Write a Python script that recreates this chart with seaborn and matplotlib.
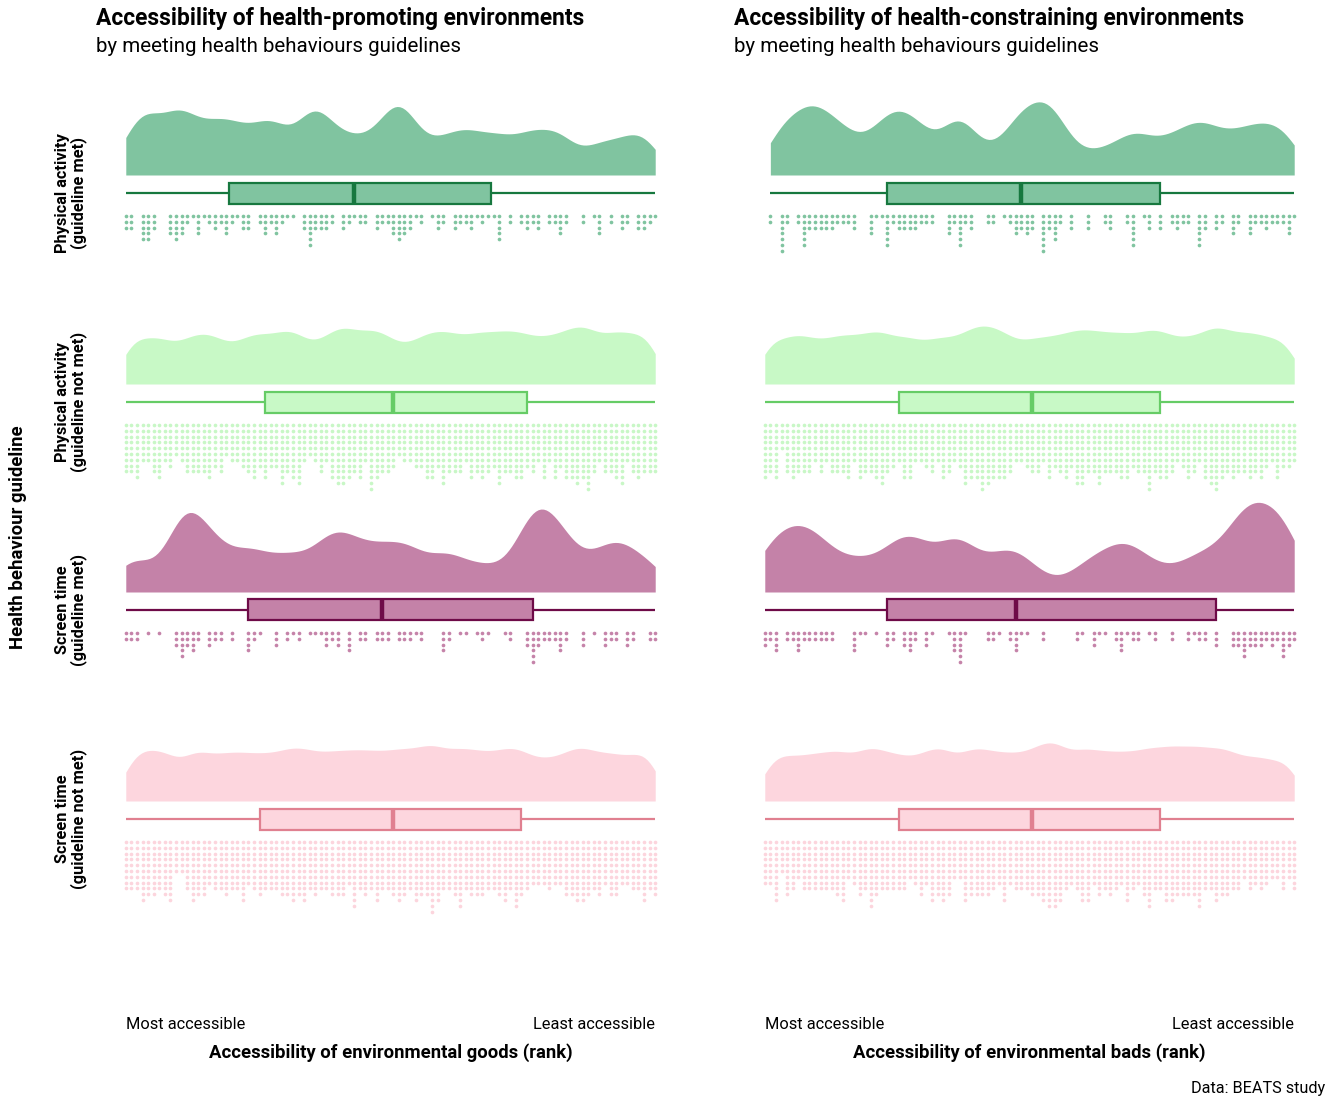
"""Raincloud plots: accessibility of environments by health behaviour guideline."""

import matplotlib

matplotlib.use("Agg")
import matplotlib.pyplot as plt
import numpy as np
import seaborn as sns

sns.set_theme(style="white")
plt.rcParams["font.family"] = ["Roboto", "DejaVu Sans"]
plt.rcParams["text.color"] = "black"
plt.rcParams["axes.labelcolor"] = "black"
plt.rcParams["xtick.color"] = "black"

# Dots per rank bin (96 bins, most accessible -> least accessible)
goods_pa_met = [
    3, 3, 0, 5, 5, 3, 0, 0, 4, 5, 4, 2, 1, 4, 1, 2,
    3, 2, 4, 2, 1, 3, 3, 0, 2, 4, 2, 4, 2, 1, 1, 0,
    3, 6, 3, 3, 3, 2, 0, 3, 2, 1, 2, 2, 0, 3, 2, 2,
    4, 5, 4, 3, 1, 2, 0, 1, 3, 2, 0, 3, 2, 2, 3, 1,
    2, 1, 1, 5, 0, 2, 0, 2, 3, 2, 3, 0, 2, 2, 4, 2,
    0, 0, 2, 0, 1, 4, 0, 2, 0, 3, 2, 0, 3, 3, 2, 1,
]
goods_pa_not_met = [
    9, 9, 10, 7, 7, 9, 10, 7, 8, 6, 7, 9, 9, 9, 9, 10,
    8, 9, 6, 7, 7, 8, 9, 10, 8, 10, 8, 8, 11, 9, 10, 11,
    7, 6, 7, 9, 7, 10, 11, 11, 10, 9, 10, 7, 12, 10, 9, 9,
    8, 6, 7, 7, 8, 8, 10, 10, 8, 11, 9, 9, 9, 7, 10, 9,
    10, 9, 8, 11, 9, 9, 10, 10, 8, 9, 7, 10, 7, 10, 8, 10,
    10, 11, 10, 12, 9, 7, 9, 9, 10, 11, 7, 9, 10, 9, 9, 9,
]
goods_st_met = [
    2, 2, 2, 0, 1, 0, 1, 0, 0, 3, 5, 3, 4, 2, 0, 3,
    2, 2, 0, 2, 0, 0, 4, 2, 1, 0, 0, 3, 0, 2, 1, 2,
    0, 1, 1, 1, 3, 2, 3, 0, 4, 0, 2, 2, 0, 2, 2, 2,
    0, 2, 2, 2, 1, 2, 0, 0, 0, 4, 2, 0, 1, 1, 0, 1,
    2, 1, 0, 0, 1, 2, 0, 0, 3, 6, 3, 2, 2, 2, 4, 2,
    0, 0, 3, 0, 1, 0, 3, 2, 2, 0, 3, 2, 0, 0, 2, 2,
]
goods_st_not_met = [
    9, 9, 9, 11, 10, 10, 9, 10, 11, 6, 6, 9, 11, 10, 10, 8,
    9, 9, 10, 9, 9, 11, 8, 9, 10, 9, 9, 9, 10, 10, 11, 10,
    11, 9, 10, 9, 9, 10, 10, 10, 8, 12, 9, 10, 9, 11, 9, 9,
    10, 11, 10, 9, 11, 10, 10, 13, 11, 9, 9, 10, 12, 9, 10, 10,
    10, 9, 9, 10, 11, 9, 12, 10, 9, 8, 8, 8, 9, 8, 8, 10,
    10, 11, 11, 10, 9, 10, 8, 10, 10, 8, 8, 9, 9, 11, 9, 10,
]
bads_pa_met = [
    0, 2, 0, 7, 2, 0, 2, 6, 3, 3, 3, 3, 3, 2, 2, 2,
    3, 0, 0, 4, 1, 1, 6, 2, 3, 3, 3, 3, 2, 2, 2, 0,
    0, 4, 2, 6, 2, 3, 0, 0, 2, 2, 0, 1, 2, 4, 3, 4,
    3, 0, 7, 3, 5, 2, 0, 3, 0, 0, 3, 0, 0, 2, 3, 0,
    0, 2, 6, 0, 1, 3, 0, 3, 0, 2, 3, 2, 2, 0, 6, 3,
    0, 3, 2, 0, 4, 2, 0, 4, 2, 2, 3, 2, 2, 2, 4, 1,
]
bads_pa_not_met = [
    10, 9, 10, 5, 9, 10, 9, 9, 9, 7, 9, 7, 9, 9, 9, 10,
    7, 10, 9, 9, 10, 11, 9, 8, 7, 10, 10, 7, 7, 8, 9, 7,
    10, 9, 7, 8, 11, 10, 10, 12, 11, 10, 10, 10, 9, 7, 7, 8,
    9, 9, 7, 10, 8, 9, 10, 8, 11, 11, 9, 9, 11, 9, 9, 9,
    10, 10, 8, 9, 9, 12, 9, 10, 10, 9, 7, 8, 10, 9, 7, 10,
    11, 12, 10, 9, 10, 9, 9, 10, 9, 10, 8, 7, 10, 8, 8, 7,
]
bads_st_met = [
    3, 2, 4, 0, 2, 2, 4, 2, 2, 2, 2, 2, 2, 0, 0, 0,
    4, 1, 1, 0, 1, 0, 3, 2, 0, 3, 4, 2, 0, 3, 1, 0,
    0, 1, 4, 6, 1, 0, 0, 0, 2, 2, 1, 0, 2, 4, 1, 1,
    0, 0, 2, 0, 0, 0, 0, 0, 2, 1, 0, 3, 1, 1, 0, 2,
    4, 1, 2, 2, 0, 1, 2, 0, 0, 2, 0, 0, 2, 1, 2, 2,
    0, 3, 0, 0, 3, 3, 5, 3, 3, 3, 2, 3, 2, 5, 3, 2,
]
bads_st_not_met = [
    8, 8, 11, 6, 10, 9, 7, 9, 9, 9, 9, 9, 9, 10, 11, 7,
    8, 10, 9, 12, 10, 9, 9, 9, 9, 9, 7, 8, 10, 8, 11, 10,
    11, 10, 7, 7, 11, 10, 10, 10, 10, 9, 8, 11, 8, 9, 9, 9,
    10, 10, 11, 12, 12, 11, 9, 8, 9, 11, 11, 8, 10, 9, 10, 9,
    8, 11, 9, 8, 10, 12, 9, 9, 11, 11, 10, 10, 10, 10, 12, 9,
    9, 11, 10, 10, 9, 9, 7, 9, 8, 9, 8, 7, 7, 9, 7, 9,
]

groups = [
    "Physical activity\n(guideline met)",
    "Physical activity\n(guideline not met)",
    "Screen time\n(guideline met)",
    "Screen time\n(guideline not met)",
]
fill_colours = ["#80c4a0", "#c8f9c6", "#c482a8", "#fdd6de"]
edge_colours = ["#17783f", "#66cc66", "#6e0b48", "#e08090"]
dot_colours = ["#80c4a0", "#c8f7c6", "#c583a9", "#fcd5dd"]

panel_titles = [
    "Accessibility of health-promoting environments",
    "Accessibility of health-constraining environments",
]
panel_xlabels = [
    "Accessibility of environmental goods (rank)",
    "Accessibility of environmental bads (rank)",
]
panel_counts = [
    [goods_pa_met, goods_pa_not_met, goods_st_met, goods_st_not_met],
    [bads_pa_met, bads_pa_not_met, bads_st_met, bads_st_not_met],
]
subtitle = "by meeting health behaviours guidelines"
rank_ends = ["Most accessible", "Least accessible"]

# Layout (pixels)
FIG_W, FIG_H = 1334, 1100
PANEL_X = [123, 762]
TITLE_X = [96, 734]
PANEL_W = 535
BASELINES = [175, 384, 592, 801]
PX_PER_DENSITY = 50
ROW_UP, ROW_DOWN = 105, 104
BOX_OFFSET, BOX_HEIGHT = 18, 21
DOT_START, DOT_STEP = 41, 5.8


def fig_rect(x, top, w, h):
    return [x / FIG_W, 1 - (top + h) / FIG_H, w / FIG_W, h / FIG_H]


def bin_centres(counts):
    return (np.arange(len(counts)) + 0.5) / len(counts)


def raincloud(ax, counts, fill, edge, dot):
    """Half-eye density, box and stacked dots for one group."""
    k = PX_PER_DENSITY
    vals = np.repeat(bin_centres(counts), counts)
    sns.kdeplot(x=vals, ax=ax, fill=True, cut=0, bw_adjust=0.3,
                color=fill, alpha=1, linewidth=0)
    sns.boxplot(x=vals, y=np.full(vals.size, -BOX_OFFSET / k), orient="y",
                native_scale=True, width=BOX_HEIGHT / k, whis=(0, 100),
                color=fill, saturation=1, linecolor=edge, linewidth=1.6,
                showcaps=False, showfliers=False,
                medianprops={"linewidth": 3.2}, ax=ax)
    xs = np.repeat(bin_centres(counts), counts)
    levels = np.concatenate([np.arange(n) for n in counts])
    ax.scatter(xs, -(DOT_START + levels * DOT_STEP) / k, s=7, color=dot,
               linewidths=0, clip_on=False)
    ax.set_xlim(0, 1)
    ax.set_ylim(-ROW_DOWN / k, ROW_UP / k)
    ax.axis("off")


fig = plt.figure(figsize=(FIG_W / 100, FIG_H / 100), dpi=100)

for p in range(2):
    # background axes only for the rank labels and the x title
    bg = fig.add_axes(fig_rect(PANEL_X[p], 70, PANEL_W, 940))
    bg.set_xlim(0, 1)
    bg.set_yticks([])
    bg.set_xticks([0.5 / 96, 95.5 / 96], rank_ends, fontsize=11.8)
    for lbl, ha in zip(bg.get_xticklabels(), ["left", "right"]):
        lbl.set_ha(ha)
    bg.tick_params(axis="x", length=0, pad=5)
    bg.set_xlabel(panel_xlabels[p], fontsize=13.3, fontweight="bold", labelpad=8)
    for s in bg.spines.values():
        s.set_visible(False)
    bg.patch.set_alpha(0)

    for g in range(4):
        ax = fig.add_axes(fig_rect(PANEL_X[p], BASELINES[g] - ROW_UP, PANEL_W,
                                   ROW_UP + ROW_DOWN))
        raincloud(ax, panel_counts[p][g], fill_colours[g], edge_colours[g],
                  dot_colours[g])

    fig.text(TITLE_X[p] / FIG_W, 1 - 19 / FIG_H, panel_titles[p], fontsize=16.4,
             fontweight="bold", va="center", ha="left")
    fig.text(TITLE_X[p] / FIG_W, 1 - 47 / FIG_H, subtitle, fontsize=14.8,
             va="center", ha="left")

for g in range(4):
    fig.text(71 / FIG_W, 1 - (BASELINES[g] + BOX_OFFSET) / FIG_H, groups[g],
             rotation=90, ha="center", va="center", fontsize=11.8,
             fontweight="bold", multialignment="center", linespacing=1.0)

fig.text(18 / FIG_W, 1 - 537 / FIG_H, "Health behaviour guideline", rotation=90,
         ha="center", va="center", fontsize=13.3, fontweight="bold")
fig.text(1325 / FIG_W, 1 - 1089 / FIG_H, "Data: BEATS study", ha="right",
         va="center", fontsize=11.7)

fig.savefig("out.png", dpi=100)
